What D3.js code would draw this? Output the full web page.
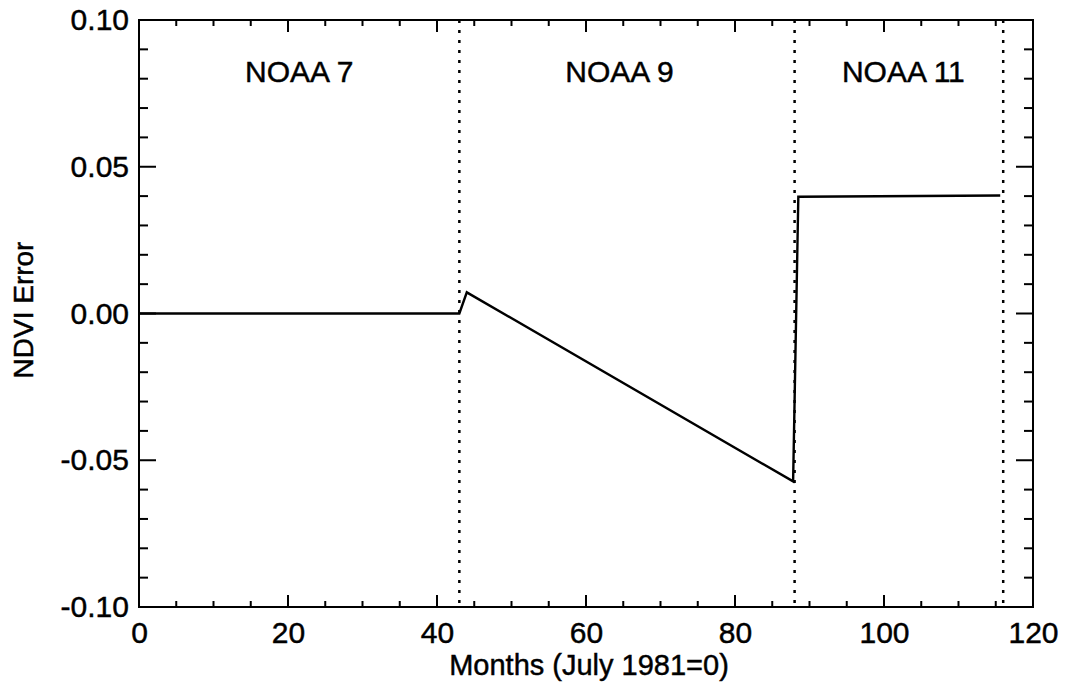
<!DOCTYPE html>
<html><head><meta charset="utf-8">
<script src="https://cdn.jsdelivr.net/npm/d3@7"></script>
<style>body{margin:0;background:#fff}svg{display:block}text{font-family:"Liberation Sans",Arial,sans-serif;fill:#000;stroke:#000;stroke-width:0.45px}</style>
</head><body><svg id="c" width="1065" height="683"></svg>
<script>
// Data
const months = [0, 43, 44, 87.8, 88.5, 115.6];
const ndviError = [0, 0, 0.0072, -0.0572, 0.0398, 0.0402];
const satBoundaries = [43, 88, 116];
const satNames = ["NOAA 7", "NOAA 9", "NOAA 11"];
const satLabelMonths = [21.5, 64.5, 102.6];
const xTicks = [0, 20, 40, 60, 80, 100, 120];
const yTicks = [-0.10, -0.05, 0.00, 0.05, 0.10];
const xTitle = "Months (July 1981=0)";
const yTitle = "NDVI Error";

const L = 139, R = 1033, T = 20, B = 607;
const svg = d3.select("#c");
const x = d3.scaleLinear().domain([0, 120]).range([L, R]);
const y = d3.scaleLinear().domain([-0.10, 0.10]).range([B, T]);

const xMinor = d3.range(0, 121, 5);
const yMinor = d3.range(-10, 11, 1).map(v => v / 100);

const g = svg.append("g");
// bottom axis
const xb = g.append("g").attr("transform", `translate(0,${B})`)
  .call(d3.axisBottom(x).tickValues(xTicks).tickFormat(d3.format("d")).tickSize(0).tickPadding(15));
xb.select(".domain").remove();
xb.selectAll("text").style("font-size", "30px").attr("fill", "#000");
// left axis
const fmtY = v => d3.format(".2f")(v).replace("\u2212", "-");
const yl = g.append("g").attr("transform", `translate(${L},0)`)
  .call(d3.axisLeft(y).tickValues(yTicks).tickFormat(fmtY).tickSize(0).tickPadding(10));
yl.select(".domain").remove();
yl.selectAll("text").style("font-size", "30px").attr("fill", "#000");

// ticks (inward, mirrored)
const tk = g.append("g").attr("stroke", "#000").attr("stroke-width", 2);
xMinor.forEach(v => {
  const len = (v % 20 === 0) ? 12 : 6;
  tk.append("line").attr("x1", x(v)).attr("x2", x(v)).attr("y1", B).attr("y2", B - len);
  tk.append("line").attr("x1", x(v)).attr("x2", x(v)).attr("y1", T).attr("y2", T + len);
});
yMinor.forEach(v => {
  const major = Math.abs(Math.round(v * 100) % 5) === 0;
  const len = major ? 17 : 9;
  tk.append("line").attr("x1", L).attr("x2", L + len).attr("y1", y(v)).attr("y2", y(v));
  tk.append("line").attr("x1", R).attr("x2", R - len).attr("y1", y(v)).attr("y2", y(v));
});

// frame
g.append("rect").attr("x", L).attr("y", T).attr("width", R - L).attr("height", B - T)
  .attr("fill", "none").attr("stroke", "#000").attr("stroke-width", 2);

// dotted boundaries
g.selectAll(".bd").data(satBoundaries).enter().append("line")
  .attr("x1", d => x(d)).attr("x2", d => x(d)).attr("y1", T).attr("y2", B)
  .attr("stroke", "#000").attr("stroke-width", 2.5).attr("stroke-dasharray", "3,7");

// data line
const pts = months.map((m, i) => [m, ndviError[i]]);
g.append("path").datum(pts)
  .attr("d", d3.line().x(d => x(d[0])).y(d => y(d[1])))
  .attr("fill", "none").attr("stroke", "#000").attr("stroke-width", 2.4);

// satellite labels
g.selectAll(".sl").data(satNames).enter().append("text")
  .attr("x", (d, i) => x(satLabelMonths[i])).attr("y", 82)
  .attr("text-anchor", "middle").style("font-size", "30px").text(d => d);

// titles
svg.append("text").attr("x", 589).attr("y", 675).attr("text-anchor", "middle")
  .style("font-size", "29px").text(xTitle);
svg.append("text").attr("transform", "translate(33,310) rotate(-90)").attr("text-anchor", "middle")
  .style("font-size", "28px").text(yTitle);
</script></body></html>
